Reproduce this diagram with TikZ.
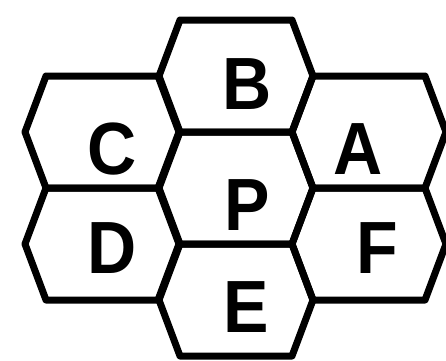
\documentclass[tikz,border=0pt]{standalone}
\usepackage{fontspec}
\setmainfont{Liberation Sans}
\begin{document}
\begin{tikzpicture}[x=1pt,y=-1pt,
  hexline/.style={line width=7pt,line join=round,black},
  hexcell/.pic={\draw[hexline] (-77,0) -- (-56,-56) -- (56,-56) -- (77,0) -- (56,56) -- (-56,56) -- cycle;},
  letter/.style={inner sep=0pt,xscale=0.92,font=\fontsize{74}{74}\selectfont\bfseries}]
\useasboundingbox (0,0) rectangle (446,360);
\pic at (236,76) {hexcell};
\pic at (236,188) {hexcell};
\pic at (236,300) {hexcell};
\pic at (102,132) {hexcell};
\pic at (102,244) {hexcell};
\pic at (369,132) {hexcell};
\pic at (369,244) {hexcell};
\node[letter] (B) at (247,84) {B};
\node[letter] (C) at (112,149) {C};
\node[letter] (A) at (358,149) {A};
\node[letter] (P) at (247,205) {P};
\node[letter] (D) at (112,248) {D};
\node[letter] (F) at (377,248) {F};
\node[letter] (E) at (246,307) {E};
\end{tikzpicture}
\end{document}
